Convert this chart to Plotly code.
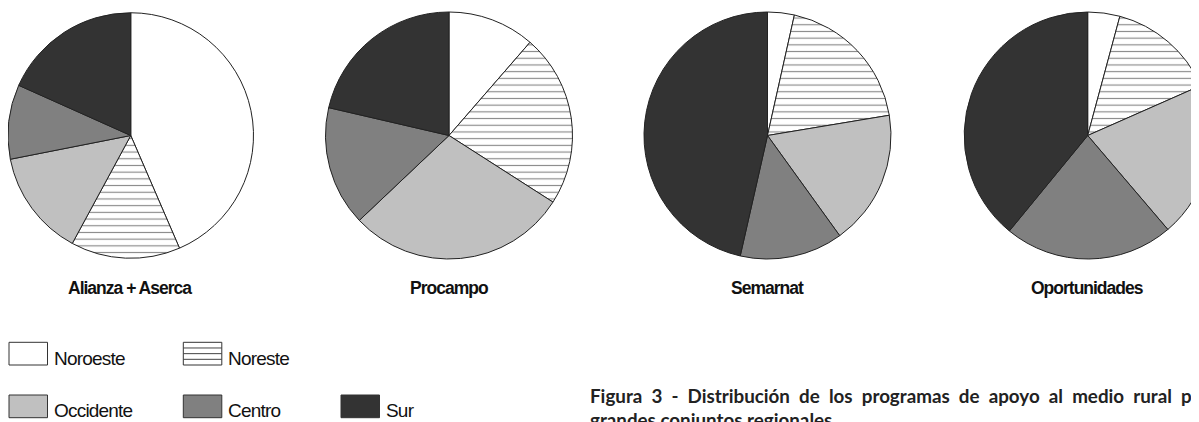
import plotly.graph_objects as go

# page body has an 8px margin: figure coordinates = reference pixels - 8
OX, OY = 8, 8
WF, HF = 1222, 422

regions = ["Noroeste", "Noreste", "Occidente", "Centro", "Sur"]
region_colors = ["#ffffff", "#ffffff", "#c0c0c0", "#808080", "#333333"]
region_patterns = ["", "-", "", "", ""]

programs = ["Alianza + Aserca", "Procampo", "Semarnat", "Oportunidades"]
alianza = [43.5, 14.4, 14.0, 9.8, 18.3]
procampo = [11.4, 22.7, 28.9, 15.7, 21.4]
semarnat = [3.5, 18.9, 17.7, 13.5, 46.5]
oportunidades = [4.2, 14.2, 20.4, 22.2, 39.1]
series = [alianza, procampo, semarnat, oportunidades]

caption_l1 = "Figura 3 - Distribución de los programas de apoyo al medio rural por"
caption_l2 = "grandes conjuntos regionales"


def px(x):
    return min(1.0, max(0.0, (x - OX) / WF))


def py(y):
    return 1 - (y - OY) / HF


# layout in reference pixels
R = 123.5
CY = 135.5
centers = [130, 449, 767.5, 1087.7]
label_x = [130, 449, 767.5, 1087]

sansf = "Liberation Sans, Arial, sans-serif"

fig = go.Figure()
for name, vals, cx in zip(programs, series, centers):
    fig.add_trace(go.Pie(
        labels=regions, values=vals, name=name,
        sort=False, direction="clockwise", rotation=0,
        textinfo="none", showlegend=False,
        marker=dict(colors=region_colors,
                    line=dict(color="#222222", width=1),
                    pattern=dict(shape=region_patterns, fillmode="overlay",
                                 fgcolor="#111111", size=6.7, solidity=0.17)),
        domain=dict(x=[px(cx - R), px(cx + R)], y=[py(CY + R), py(CY - R)]),
    ))


def narrow(txt, ls):
    return '<span style="letter-spacing:%.2fpx">%s</span>' % (ls, txt)


annotations = []
for name, lx in zip(programs, label_x):
    annotations.append(dict(x=(lx - OX) / WF, y=py(288), xref="paper", yref="paper",
                            text="<b>" + narrow(name, -1.0) + "</b>", showarrow=False,
                            xanchor="center", yanchor="middle",
                            font=dict(family=sansf, size=17.5, color="#111111")))

# legend drawn as boxes + labels
legend_items = [
    (0, 9, 342.3), (1, 183.3, 342.3),
    (2, 9, 395), (3, 183.3, 395), (4, 341, 395),
]
shapes = []
bw, bh = 38.5, 22.7
for idx, bx, by in legend_items:
    shapes.append(dict(type="rect", xref="paper", yref="paper",
                       x0=px(bx), x1=px(bx + bw),
                       y0=py(by + bh), y1=py(by),
                       fillcolor=region_colors[idx],
                       line=dict(color="#333333", width=1)))
    if region_patterns[idx] == "-":
        for k in range(1, 4):
            yy = by + bh * k / 4
            shapes.append(dict(type="line", xref="paper", yref="paper",
                               x0=px(bx), x1=px(bx + bw),
                               y0=py(yy), y1=py(yy),
                               line=dict(color="#444444", width=1)))
    annotations.append(dict(x=px(bx + bw + 4), y=py(by + bh + 5.5),
                            xref="paper", yref="paper", text=narrow(regions[idx], -0.8),
                            showarrow=False, xanchor="left", yanchor="bottom",
                            font=dict(family=sansf, size=19, color="#111111")))

sp = " \u00a0"
capfont = dict(family="Lato, sans-serif", size=18.8, color="#222222")
annotations.append(dict(x=px(588), y=py(409), xref="paper", yref="paper",
                        text="<b>" + caption_l1.replace(" ", sp) + "</b>",
                        showarrow=False, xanchor="left", yanchor="bottom",
                        font=capfont))
annotations.append(dict(x=px(588), y=py(433), xref="paper", yref="paper",
                        text="<b>" + caption_l2 + "</b>",
                        showarrow=False, xanchor="left", yanchor="bottom",
                        font=capfont))

fig.update_layout(width=WF, height=HF, margin=dict(l=0, r=0, t=0, b=0),
                  paper_bgcolor="white", plot_bgcolor="white",
                  annotations=annotations, shapes=shapes)
fig.write_html("out.html")
